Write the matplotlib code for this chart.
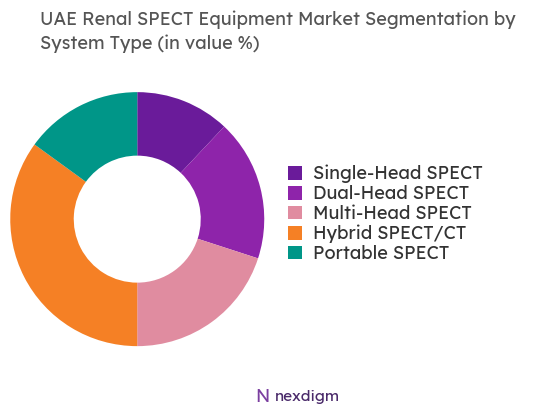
import matplotlib.pyplot as plt

plt.rcParams['font.family'] = ['Lexend', 'Noto Sans', 'DejaVu Sans']

labels = ['Single-Head SPECT', 'Dual-Head SPECT', 'Multi-Head SPECT', 'Hybrid SPECT/CT', 'Portable SPECT']
values = [12, 18, 20, 35, 15]
colors = ['#6a1b9a', '#8e24aa', '#e08ca0', '#f58025', '#009688']

fig = plt.figure(figsize=(5.49, 4.19), dpi=100)
ax = fig.add_axes([0.25 - 127 / 549, 0.477 - 127 / 419, 254 / 549, 254 / 419])
wedges, _ = ax.pie(values, colors=colors, startangle=90, counterclock=False,
                   wedgeprops=dict(width=0.5, edgecolor='white', linewidth=0))
ax.set_aspect('equal')
ax.set_xlim(-1, 1)
ax.set_ylim(-1, 1)

fig.legend(wedges, labels, loc='center left', bbox_to_anchor=(0.495, 0.49),
           frameon=False, fontsize=13, handlelength=0.8, handleheight=0.8,
           labelspacing=0.1, handletextpad=0.6, labelcolor='#333333')

fig.text(0.072, 0.975, 'UAE Renal SPECT Equipment Market Segmentation by\nSystem Type (in value %)',
         ha='left', va='top', fontsize=13, color='#555555', linespacing=1.4)

fig.text(0.5, 0.052, 'nexdigm', ha='left', va='center', fontsize=11, color='#4a2a6a')
fig.text(0.465, 0.052, 'N', ha='left', va='center', fontsize=13, color='#7b3fa0', style='italic')

fig.savefig('out.png', dpi=100)
